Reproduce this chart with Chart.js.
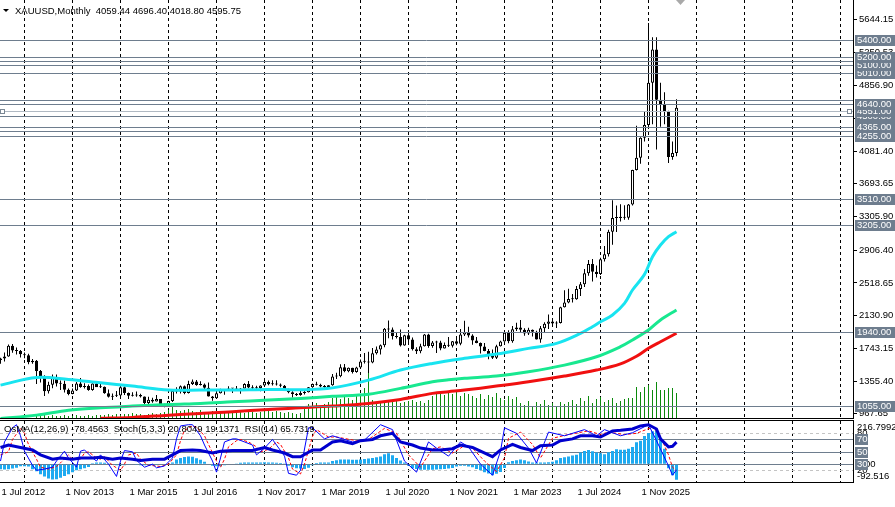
<!DOCTYPE html>
<html><head><meta charset="utf-8">
<script src="https://cdn.jsdelivr.net/npm/chart.js@4.4.1/dist/chart.umd.min.js"></script>
<style>
html,body{margin:0;padding:0;background:#fff;overflow:hidden;width:895px;height:507px}
canvas{position:absolute;left:0;display:block}
#c1{top:0}
#c2{top:419px}
</style></head><body>
<canvas id="c1" width="895" height="419"></canvas>
<canvas id="c2" width="895" height="88"></canvas>
<script>
// ---------- DATA (monthly bars, index 0 = Jul 2012) ----------
const symbol = 'XAUUSD,Monthly';
const openP = [1604,1622,1648,1773,1719,1712,
1675,1663,1578,1596,1476,1393,1234,1313,1396,1327,1323,1253,
1202,1244,1326,1284,1296,1250,1327,1282,1287,1211,1171,1183,
1184,1283,1213,1183,1184,1190,1172,1095,1134,1115,1142,1065,
1061,1118,1238,1233,1293,1215,1322,1351,1309,1316,1277,1173,
1151,1211,1249,1249,1268,1269,1242,1269,1322,1280,1271,1275,
1303,1345,1318,1325,1316,1299,1253,1224,1201,1192,1215,1222,
1282,1321,1313,1292,1284,1305,1409,1413,1520,1472,1513,1464,
1517,1589,1585,1577,1686,1730,1781,1975,1968,1886,1879,1776,
1898,1847,1734,1708,1769,1907,1770,1814,1814,1743,1783,1774,
1829,1797,1909,1937,1897,1837,1807,1766,1711,1661,1633,1768,
1824,1928,1827,1969,1990,1963,1919,1965,1940,1849,1983,2036,
2063,2039,2044,2230,2286,2327,2326,2447,2503,2635,2744,2650,
2624,2798,2858,3124,3288,3289,3303,3290,3448,3858,4002,4239,
4390,4890,5284,4690,4640,4550,4010,4059.44];
const highP = [1631,1693,1788,1796,1755,1723,
1694,1680,1617,1605,1487,1424,1348,1434,1434,1361,1362,1267,
1268,1344,1392,1331,1315,1331,1345,1322,1290,1256,1208,1239,
1307,1291,1220,1224,1232,1205,1172,1170,1157,1191,1143,1088,
1123,1263,1283,1304,1304,1359,1375,1367,1353,1326,1338,1180,
1220,1264,1262,1295,1271,1296,1275,1331,1357,1306,1299,1306,
1366,1362,1365,1365,1326,1309,1266,1235,1214,1243,1237,1284,
1326,1347,1324,1310,1306,1439,1453,1555,1557,1517,1515,1524,
1611,1689,1704,1748,1765,1789,1984,2075,1992,1933,1966,1906,
1959,1871,1756,1798,1913,1917,1832,1834,1834,1814,1877,1831,
1853,1974,2070,1998,1910,1879,1814,1808,1735,1730,1786,1833,
1949,1959,2009,2048,2079,1983,1987,1966,1953,2009,2052,2146,
2088,2065,2236,2431,2450,2387,2483,2531,2685,2790,2801,2726,
2817,2956,3148,3500,3435,3452,3439,3453,3859,4381,4245,4555,
5600,5430,5430,4890,4780,4560,4196,4696.40];
const lowP = [1562,1587,1645,1692,1672,1636,
1626,1555,1562,1321,1338,1180,1208,1270,1292,1251,1221,1187,
1200,1238,1277,1268,1240,1240,1285,1273,1206,1161,1131,1167,
1167,1191,1142,1173,1170,1162,1077,1080,1098,1113,1052,1046,
1061,1107,1208,1209,1200,1208,1310,1301,1302,1241,1172,1123,
1146,1207,1195,1244,1214,1237,1205,1267,1271,1261,1263,1236,
1302,1307,1303,1302,1282,1245,1211,1160,1180,1183,1196,1221,
1276,1303,1281,1266,1266,1301,1381,1400,1459,1459,1445,1453,
1517,1563,1451,1568,1670,1671,1757,1863,1849,1860,1764,1775,
1802,1717,1677,1684,1765,1750,1750,1688,1721,1741,1758,1753,
1780,1781,1890,1872,1787,1805,1681,1709,1615,1617,1617,1765,
1823,1805,1810,1950,1932,1893,1903,1884,1847,1810,1931,1973,
2002,1984,2039,2228,2277,2286,2318,2364,2471,2603,2536,2583,
2614,2772,2833,2970,3121,3247,3268,3269,3436,3850,3930,4196,
4380,4400,4100,4370,4400,3940,3979,4018.80];
const closeP = [1622,1648,1773,1719,1712,1675,
1663,1578,1596,1476,1393,1234,1313,1396,1327,1323,1253,1202,
1244,1326,1284,1296,1250,1327,1282,1287,1211,1171,1183,1184,
1283,1213,1183,1184,1190,1172,1095,1134,1115,1142,1065,1061,
1118,1238,1233,1293,1215,1322,1351,1309,1316,1277,1173,1151,
1211,1249,1249,1268,1269,1242,1269,1322,1280,1271,1275,1303,
1345,1318,1325,1316,1299,1253,1224,1201,1192,1215,1222,1282,
1321,1313,1292,1284,1305,1409,1413,1520,1472,1513,1464,1517,
1589,1585,1577,1686,1730,1781,1975,1968,1886,1879,1776,1898,
1847,1734,1708,1769,1907,1770,1814,1814,1743,1783,1774,1829,
1797,1909,1937,1897,1837,1807,1766,1711,1661,1633,1768,1824,
1928,1827,1969,1990,1963,1919,1965,1940,1849,1983,2036,2063,
2039,2044,2230,2286,2327,2326,2447,2503,2635,2744,2650,2624,
2798,2858,3124,3288,3289,3303,3290,3448,3858,4002,4239,4390,
4890,5284,4690,4640,4550,4010,4059.44,4595.75];
const volume = [null,null,null,null,null,null,null,null,null,
2,3,3,2,3,2,2,3,2,2,3,2,2,3,2,3,
3,3,4,3,4,3,4,4,5,4,4,3,4,5,4,5,
6,8,11,8,7,8,9,7,6,8,
6,5,7,5,6,5,6,5,5,6,5,7,6,5,6,8,7,6,7,6,5,6,5,4,5,
12,14,13,15,12,14,16,
20,21,19,22,20, 18,22,24, 30, 52,
18,16,17,15,18,16,17,15,16,17,18,16,17,15,18,
22,25,27,23,26,24,27,22,25,24,
22,20,24,19,23,21,25,20,18,22,19,21,
15,13,17,12,16,14,18,13,15,12,16,14,
16,18,14,20,17,22,15,19,21,16,18,20,15,17,19,20,
20,31,26,31,33,28,36,28,28,30,30,25];

// moving averages (bar index / value)
const ma1Idx = [0,9,17,25,33,42,50,58,67,75,83,92,100,108,116,124,132,139,145,148,150,153,156,158,161,163,165,167,169];
const ma1Val = [1308,1399,1375,1335,1296,1249,1249,1249,1257,1253,1275,1367,1486,1565,1625,1676,1743,1803,1921,2000,2059,2139,2277,2435,2620,2830,2968,3067,3126];
const ma2Idx = [0,9,17,25,33,42,50,58,67,75,83,92,100,108,112,116,124,132,141,149,155,158,162,165,169];
const ma2Val = [913,952,1011,1039,1059,1079,1091,1110,1130,1150,1175,1200,1269,1347,1370,1388,1415,1466,1545,1644,1763,1843,1961,2080,2198];
const ma3Idx = [25,33,42,50,58,67,75,83,92,100,108,112,116,124,132,141,149,155,159,162,165,169];
const ma3Val = [915,925,952,972,991,1020,1039,1059,1091,1138,1210,1230,1249,1296,1347,1415,1486,1560,1650,1744,1822,1922];

// indicator window
const osma = [-25,-27,-25,-22,-18,-11,-10,-12,-25,-35,
-50,-62,-72,-77,-76,-68,-60,-50,-40,-30,-25,-20,-14,
5,8,9,7,3,
-3,-5,-6,-5,-4,-3,-4,-5,-6,-6,-5,-4,-3,-2,2,
9,24,31,36,39,37,30,22,12,2,
-8,-11,-10,-5,0,2,4,
7,8,9,9,8,9,10,9,8,7,6,3,
-8,-15,-20,-22,-24,-18,
-5,6,8,8,9,
16,20,24,24,23,22,22,24,26,28,31,35,39,50,55,
45,31,19,8,
-8,-20,-24,-28,-28,-28,-28,-27,-26,-24,-22,-19,
-12,-8,-8,-12,
-16,-24,-31,-40,-47,-55,-48,-39,-19,
10,16,20,24,20,14,
8,8,9,9,10,12,20,
31,35,39,43,47,58,66,71,65,58,55,
50,60,66,75,73,72,78,86,
110,118,141,157,165,
170,133,78,-20,-55,-78.4563];
const stochIdx = [0,1,3,4,5,6,8,9,11,13,14,16,17,19,20,21,23,24,25,27,29,30,31,33,34,36,38,39,41,43,44,45,47,48,50,51,53,54,55,56,58,59,61,63,64,66,68,69,71,72,74,75,77,78,81,83,88,91,95,98,101,104,107,109,112,115,117,120,123,125,126,129,132,134,137,141,146,149,151,155,158,162,164,167,168,169];
const stochVal = [35,66,89,94,76,51,28,20,22,25,35,51,40,25,51,53,40,35,45,30,10,35,52,50,36,25,30,24,27,40,71,92,94,94,76,61,35,17,40,66,71,71,66,61,45,56,70,61,43,15,12,20,89,89,71,76,66,69,94,86,35,17,66,56,43,66,58,30,12,51,89,80,56,32,82,76,86,76,86,76,81,94,68,27,12,20.8049];
const sigIdx = [0,2,3,5,6,7,9,10,12,14,15,17,18,20,21,22,24,25,26,28,30,31,32,34,35,37,39,40,42,44,45,46,48,49,51,52,54,55,56,57,59,60,62,64,65,67,69,70,72,73,75,76,78,79,82,84,89,92,96,99,102,105,108,110,113,116,118,121,124,126,127,130,133,135,138,142,147,150,152,156,159,163,165,167,168,169];
const sigVal = [45,50,70,88,80,62,38,25,22,26,32,45,38,38,48,50,40,38,42,28,20,30,45,48,38,28,27,26,30,45,68,85,92,90,76,62,35,25,38,58,68,70,66,58,50,54,66,62,40,22,14,30,75,86,74,74,68,70,88,80,45,25,55,58,48,60,56,35,18,40,72,82,62,40,72,78,84,78,82,78,80,90,75,45,25,19.1371];
const rsiIdx = [0,2,5,8,10,13,15,18,20,23,25,28,30,33,35,38,41,43,45,48,50,53,55,58,60,63,66,68,71,73,75,78,80,83,85,88,90,93,95,98,100,103,105,108,110,113,115,118,120,123,125,128,130,133,135,138,140,143,145,148,150,153,155,158,160,162,164,165,167,168,169];
const rsiVal = [57,61,57,53,45,38,40,38,40,40,41,38,40,38,36,38,38,45,52,53,52,48,51,52,52,52,57,53,48,42,42,53,53,66,68,63,68,70,76,80,66,61,56,53,53,55,61,57,51,42,53,62,57,52,60,61,68,71,76,76,74,84,85,87,92,94,87,71,58,59,65.7319];

// axes / ticks / levels
const priceTicks = [5644.15,5250.53,4856.90,4469.15,4081.40,3693.65,3305.90,2906.40,2518.65,2130.90,1743.15,1355.40,967.65];
const janIdx = [6,18,30,42,54,66,78,90,102,114,126,138,150,162,174,186,198,210];
const labelIdx = [0,16,32,48,64,80,96,112,128,144,160];
const labelText = ['1 Jul 2012','1 Nov 2013','1 Mar 2015','1 Jul 2016','1 Nov 2017','1 Mar 2019','1 Jul 2020','1 Nov 2021','1 Mar 2023','1 Jul 2024','1 Nov 2025'];
const levelLines = [5400,5200,5150,5100,5010,4685,4640,4551,4500,4365,4320,4255,3510,3205,1940,1055];
const levelTags = [1055,1940,3205,3510,4255,4365,4500,4551,4640,5010,5100,5200,5400];
const selectedLevel = 4551;
const stochLevels = [80,20];
const rsiLevels = [70,50,30];
const osmaMin = -92.516, osmaMax = 216.7992;
const priceMin = 918, priceMax = 5872;
const shiftIdx = 170;
const xMin = -0.125, xMax = 213.125;

// ---------- RENDER ----------
const FONT = '"Liberation Sans", Arial, sans-serif';
const FS = 9.5;
const LINE = '#6E7D8E', SEL = '#B0B9C3', TAG = '#6E7D8E';
const N = closeP.length;
const bodies = [], wicks = [], bodyColors = [], vols = [];
for (let i = 0; i < N; i++) {
  bodies.push({x: i, y: [openP[i], closeP[i]]});
  bodyColors.push(closeP[i] >= openP[i] ? '#ffffff' : '#000000');
  wicks.push({x: i, y: [lowP[i], highP[i]]});
  if (volume[i] != null) vols.push({x: i, y: volume[i]});
}
const pts = (idx, val) => idx.map((v, k) => ({x: v, y: val[k]}));
const zeroPad = s => { s.paddingTop = 0; s.paddingBottom = 0; s.paddingLeft = 0; s.paddingRight = 0; };

const mainDeco = {
  id: 'mainDeco',
  afterDatasetsDraw(chart) {
    const {ctx, chartArea: a, scales: {y}} = chart;
    ctx.save();
    ctx.beginPath(); ctx.rect(a.left, a.top, a.right - a.left, a.bottom - a.top); ctx.clip();
    ctx.lineWidth = 1;
    levelLines.forEach(v => {
      const py = Math.round(y.getPixelForValue(v)) + 0.5;
      ctx.strokeStyle = v === selectedLevel ? SEL : LINE;
      ctx.beginPath(); ctx.moveTo(a.left, py); ctx.lineTo(a.right, py); ctx.stroke();
    });
    const ps = Math.round(y.getPixelForValue(selectedLevel)) + 0.5;
    [a.left + 0.5, a.right - 5.5].forEach(px => {
      ctx.fillStyle = '#fff'; ctx.fillRect(px, ps - 2, 4, 4);
      ctx.strokeStyle = '#7A8794'; ctx.strokeRect(px, ps - 2, 4, 4);
    });
    ctx.restore();
  },
  afterDraw(chart) {
    const {ctx, chartArea: a, scales: {x, y}} = chart;
    ctx.save();
    ctx.fillStyle = '#000';
    ctx.fillRect(0, Math.round(a.bottom), Math.round(a.right) + 1, 1);
    ctx.font = FS + 'px ' + FONT; ctx.textBaseline = 'middle'; ctx.textAlign = 'left';
    levelTags.slice().sort((p, q) => p - q).forEach(v => {
      const py = Math.round(y.getPixelForValue(v));
      ctx.fillStyle = TAG; ctx.fillRect(a.right + 2, py - 5, 40, 11);
      ctx.fillStyle = '#fff'; ctx.fillText(v.toFixed(2), a.right + 4, py + 0.5);
    });
    const sx = x.getPixelForValue(shiftIdx);
    ctx.fillStyle = '#A9A9A9';
    ctx.beginPath(); ctx.moveTo(sx - 4.5, 0); ctx.lineTo(sx + 4.5, 0); ctx.lineTo(sx, 5); ctx.closePath(); ctx.fill();
    ctx.fillStyle = '#000';
    ctx.beginPath(); ctx.moveTo(3, 9); ctx.lineTo(9, 9); ctx.lineTo(6, 12); ctx.closePath(); ctx.fill();
    const hdr = symbol + '  ' + [openP[N-1], highP[N-1], lowP[N-1], closeP[N-1]].map(v => v.toFixed(2)).join(' ');
    ctx.fillText(hdr, 15, 11);
    ctx.restore();
  }
};

const maStyle = {type: 'line', borderWidth: 3, pointRadius: 0, tension: 0.35, clip: 0, order: 0};
new Chart(document.getElementById('c1'), {
  type: 'line',
  data: { datasets: [
    Object.assign({data: pts(ma1Idx, ma1Val), borderColor: '#18E4F0'}, maStyle),
    Object.assign({data: pts(ma2Idx, ma2Val), borderColor: '#18E890'}, maStyle),
    Object.assign({data: pts(ma3Idx, ma3Val), borderColor: '#F01010'}, maStyle),
    {type: 'bar', data: bodies, backgroundColor: bodyColors, borderColor: '#000', borderWidth: 1, borderSkipped: false, barThickness: 3, grouped: false, minBarLength: 1, inflateAmount: 0, order: 1},
    {type: 'bar', data: wicks, backgroundColor: '#000', borderWidth: 0, barThickness: 1, grouped: false, inflateAmount: 0, order: 2},
    {type: 'bar', data: vols, yAxisID: 'yv', backgroundColor: '#0B8A0B', borderWidth: 0, barThickness: 1, grouped: false, inflateAmount: 0, order: 3}
  ]},
  options: {
    responsive: false, animation: false, devicePixelRatio: 1, events: [],
    layout: {padding: {left: 0, right: 0, top: 0, bottom: 1}},
    plugins: {legend: {display: false}, tooltip: {enabled: false}},
    scales: {
      x: {type: 'linear', min: xMin, max: xMax, offset: false,
          grid: {display: true, color: '#000', lineWidth: 1, drawTicks: false, offset: false},
          border: {display: false, dash: [3, 3]},
          ticks: {display: false},
          afterBuildTicks: s => { s.ticks = janIdx.map(v => ({value: v})); },
          afterFit: zeroPad},
      y: {type: 'linear', position: 'right', min: priceMin, max: priceMax,
          grid: {drawOnChartArea: false, drawTicks: true, tickLength: 4, color: '#000'},
          border: {display: true, color: '#000', width: 1},
          ticks: {autoSkip: false, color: '#000', font: {family: FONT, size: FS}, padding: 2, callback: v => v.toFixed(2)},
          afterBuildTicks: s => { s.ticks = priceTicks.map(v => ({value: v})); },
          afterFit: s => { s.width = 42; zeroPad(s); }},
      yv: {type: 'linear', display: false, min: 0, max: 418}
    }
  },
  plugins: [mainDeco]
});

const subDeco = {
  id: 'subDeco',
  beforeDatasetsDraw(chart) {
    const {ctx, chartArea: a, scales: {ys}} = chart;
    ctx.save(); ctx.lineWidth = 1;
    ctx.strokeStyle = '#C4C4C4'; ctx.setLineDash([3, 3]);
    stochLevels.forEach(v => {
      const py = Math.round(ys.getPixelForValue(v)) + 0.5;
      ctx.beginPath(); ctx.moveTo(a.left, py); ctx.lineTo(a.right, py); ctx.stroke();
    });
    ctx.setLineDash([]); ctx.strokeStyle = LINE;
    rsiLevels.forEach(v => {
      const py = Math.round(ys.getPixelForValue(v)) + 0.5;
      ctx.beginPath(); ctx.moveTo(a.left, py); ctx.lineTo(a.right, py); ctx.stroke();
    });
    ctx.restore();
  },
  afterDraw(chart) {
    const {ctx, chartArea: a, scales: {ys, yo}} = chart;
    ctx.save();
    ctx.fillStyle = '#000';
    ctx.fillRect(0, Math.round(a.top) - 1, Math.round(a.right) + 1, 1);
    ctx.fillRect(0, Math.floor(a.bottom), Math.round(a.right) + 1, 1);
    ctx.font = FS + 'px ' + FONT; ctx.textBaseline = 'middle'; ctx.textAlign = 'left';
    const lx = a.right + 4;
    ctx.fillText(osmaMax.toFixed(4), lx, yo.getPixelForValue(osmaMax) + 6.5);
    ctx.fillText(String(stochLevels[0]), lx, ys.getPixelForValue(stochLevels[0]));
    ctx.fillText('0.00', lx, yo.getPixelForValue(0));
    ctx.fillText(String(stochLevels[1]), lx, ys.getPixelForValue(stochLevels[1]));
    ctx.fillText(osmaMin.toFixed(3), lx, yo.getPixelForValue(osmaMin) - 6);
    rsiLevels.forEach(v => {
      const py = Math.round(ys.getPixelForValue(v));
      ctx.fillStyle = TAG; ctx.fillRect(a.right + 2, py - 5, 13, 11);
      ctx.fillStyle = '#fff'; ctx.fillText(String(v), lx, py + 0.5);
    });
    ctx.fillStyle = '#000';
    const txt = 'OsMA(12,26,9) ' + osma[N-1].toFixed(4) + '  Stoch(5,3,3) ' + stochVal[stochVal.length-1].toFixed(4) + ' ' +
      sigVal[sigVal.length-1].toFixed(4) + '  RSI(14) ' + rsiVal[rsiVal.length-1].toFixed(4);
    ctx.fillText(txt, 4, a.top + 8);
    ctx.restore();
  }
};

new Chart(document.getElementById('c2'), {
  type: 'line',
  data: { datasets: [
    {type: 'bar', data: osma.map((v, i) => ({x: i, y: v})), yAxisID: 'yo', backgroundColor: '#1EAAF0', borderWidth: 0, barThickness: 3, grouped: false, inflateAmount: 0, order: 3},
    {type: 'line', data: pts(sigIdx, sigVal), yAxisID: 'ys', borderColor: '#FF0000', borderWidth: 1, borderDash: [3, 2], pointRadius: 0, clip: 0, order: 2},
    {type: 'line', data: pts(stochIdx, stochVal), yAxisID: 'ys', borderColor: '#0000FF', borderWidth: 1, pointRadius: 0, clip: 0, order: 1},
    {type: 'line', data: pts(rsiIdx, rsiVal), yAxisID: 'ys', borderColor: '#0000CD', borderWidth: 3, pointRadius: 0, clip: 0, order: 0}
  ]},
  options: {
    responsive: false, animation: false, devicePixelRatio: 1, events: [],
    layout: {padding: {left: 0, right: 0, top: 2, bottom: 5}},
    plugins: {legend: {display: false}, tooltip: {enabled: false}},
    scales: {
      x: {type: 'linear', position: 'bottom', min: xMin, max: xMax, offset: false,
          grid: {display: false, drawTicks: false}, border: {display: false},
          ticks: {autoSkip: false, maxRotation: 0, minRotation: 0, align: 'start', padding: 4, labelOffset: 1,
                  color: '#000', font: {family: FONT, size: FS}, 
                  callback: v => { const k = labelIdx.indexOf(v); return k >= 0 ? labelText[k] : ''; }},
          afterBuildTicks: s => { s.ticks = labelIdx.map(v => ({value: v})); },
          afterFit: zeroPad},
      xg: {type: 'linear', position: 'bottom', min: xMin, max: xMax, offset: false,
           grid: {display: true, color: '#000', lineWidth: 1, drawTicks: false, offset: false},
           border: {display: false, dash: [3, 3]},
           ticks: {display: false},
           afterBuildTicks: s => { s.ticks = janIdx.map(v => ({value: v})); },
           afterFit: s => { s.height = 0; zeroPad(s); }},
      yo: {type: 'linear', position: 'right', min: osmaMin, max: osmaMax,
           grid: {drawOnChartArea: false, drawTicks: false}, border: {display: true, color: '#000'},
           ticks: {display: false}, afterFit: s => { s.width = 42; zeroPad(s); }},
      ys: {type: 'linear', display: false, min: 0, max: 100}
    }
  },
  plugins: [subDeco]
});
</script>
</body></html>
